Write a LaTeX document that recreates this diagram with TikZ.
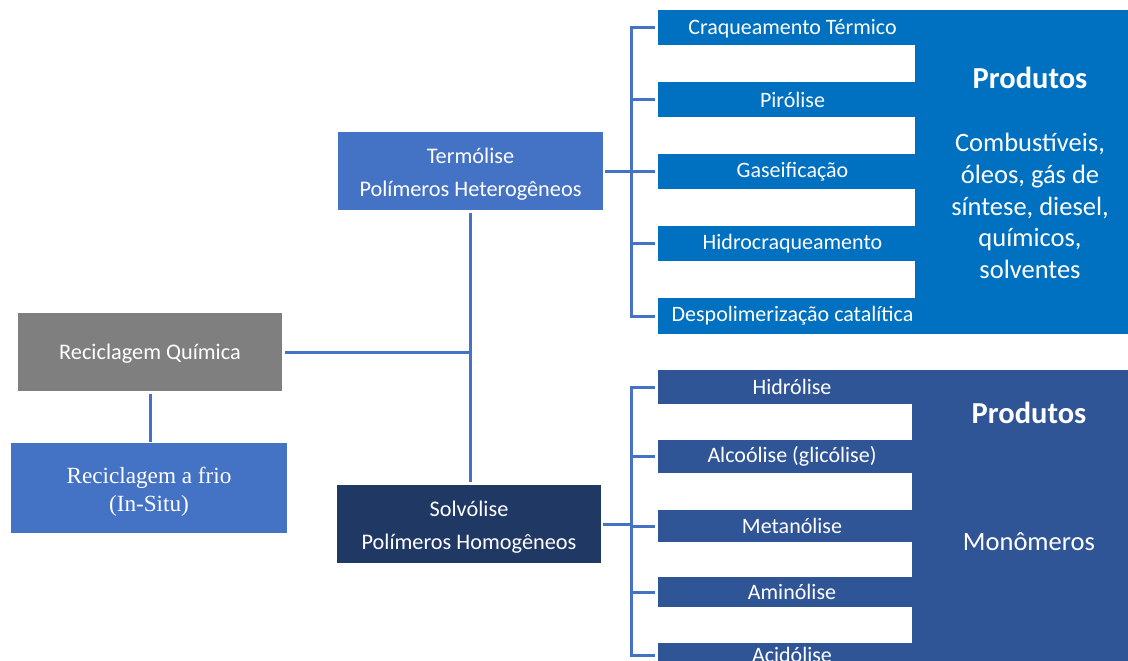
\documentclass[tikz,border=0pt]{standalone}
\usepackage{fontspec}
\setmainfont{Carlito}
\newfontfamily\timesface{Liberation Serif}
\definecolor{topblue}{HTML}{0070C0}
\definecolor{lowblue}{HTML}{2F5597}
\definecolor{midblue}{HTML}{4472C4}
\definecolor{navy}{HTML}{203864}
\definecolor{greybox}{HTML}{7F7F7F}
\definecolor{linkblue}{HTML}{4472C4}

% strut that lowers a two-line label a little inside its box
\newcommand{\lowerstrut}{\rule{0pt}{22pt}}

\tikzset{
  block/.style={inner sep=0pt, outer sep=0pt, text=white, align=center, anchor=north west},
  barlabel/.style={block, font=\fontsize{22}{24}\selectfont},
  boxlabel/.style={block, font=\fontsize{22.3}{33}\selectfont},
  prodtitle/.style={text=white, inner sep=0pt, font=\bfseries\fontsize{30.5}{34}\selectfont},
  prodtext/.style={text=white, inner sep=0pt, align=center, font=\fontsize{26.5}{31.7}\selectfont},
  conn/.style={draw=linkblue, line width=3pt}
}

\begin{document}
\begin{tikzpicture}[x=1pt, y=-1pt]
\useasboundingbox (0,0) rectangle (1128,661);
\clip (0,0) rectangle (1128,661);

% left part: chemical recycling and cold recycling
\node[boxlabel, fill=greybox, minimum width=264pt, minimum height=78pt] (quim) at (18,313) {\rule{0pt}{19pt}Reciclagem Química};
\node[block, fill=midblue, minimum width=276pt, minimum height=90pt,
      font=\timesface\fontsize{23.2}{28}\selectfont] (frio) at (11,443) {\rule{0pt}{23pt}Reciclagem a frio\\(In-Situ)};

% middle boxes
\node[boxlabel, fill=midblue, minimum width=265pt, minimum height=78pt] (termo) at (338,132) {\lowerstrut Termólise\\Polímeros Heterogêneos};
\node[boxlabel, fill=navy, minimum width=264pt, minimum height=78pt] (solvo) at (337,485) {\lowerstrut Solvólise\\Polímeros Homogêneos};

% process bars first, then the product blocks over their right ends
\node[barlabel, fill=topblue, minimum width=269pt, minimum height=35pt] (t1) at (658,10)  {\rule{0pt}{18pt}Craqueamento Térmico};
\node[barlabel, fill=topblue, minimum width=269pt, minimum height=35pt] (t2) at (658,82)  {Pirólise};
\node[barlabel, fill=topblue, minimum width=269pt, minimum height=35pt] (t3) at (658,154) {Gaseificação};
\node[barlabel, fill=topblue, minimum width=269pt, minimum height=35pt] (t4) at (658,226) {Hidrocraqueamento};
\node[barlabel, fill=topblue, minimum width=269pt, minimum height=36pt] (t5) at (658,298) {Despolimerização catalítica};
\node[block, fill=topblue, minimum width=230pt, minimum height=324pt] (prodT) at (915,10) {};
\node[prodtitle] (prodTtitle) at (1030,78) {Produtos};
\node[prodtext] (prodTlist) at (1030,206) {Combustíveis,\\óleos, gás de\\síntese, diesel,\\químicos,\\solventes};

\node[barlabel, fill=lowblue, minimum width=268pt, minimum height=34pt] (b1) at (658,370) {Hidrólise};
\node[barlabel, fill=lowblue, minimum width=268pt, minimum height=33pt] (b2) at (658,440) {Alcoólise (glicólise)};
\node[barlabel, fill=lowblue, minimum width=268pt, minimum height=32pt] (b3) at (658,510) {Metanólise};
\node[barlabel, fill=lowblue, minimum width=268pt, minimum height=30pt] (b4) at (658,577) {Aminólise};
\node[barlabel, fill=lowblue, minimum width=268pt, minimum height=24pt] (b5) at (658,643) {Acidólise};
\node[block, fill=lowblue, minimum width=230pt, minimum height=300pt] (prodB) at (912,370) {};
\node[prodtitle] (prodBtitle) at (1029,413) {Produtos};
\node[prodtext] (prodBmono) at (1029,542) {Monômeros};

% connectors
\coordinate (hub) at (470,352);
\coordinate (brkT) at (631,171);
\coordinate (brkB) at (631,524);

\draw[conn, shorten <=3pt] (quim.east) -- (hub);
\draw[conn, shorten <=3pt, shorten >=1pt] (quim.south) -- (quim.south |- frio.north);
\draw[conn, shorten <=3pt, shorten >=3pt] (termo.south) -- (termo.south |- solvo.north);

\draw[conn, shorten <=2pt] (termo.east) -- (brkT);
\draw[conn, shorten <=3pt, shorten >=3pt] (t1.west) -| (brkT) |- (t5.west);
\draw[conn, shorten >=3pt] (brkT) |- (t2.west);
\draw[conn, shorten >=3pt] (brkT) |- (t3.west);
\draw[conn, shorten >=3pt] (brkT) |- (t4.west);

\draw[conn, shorten <=2pt] (solvo.east) -- (brkB);
\draw[conn, shorten <=3pt, shorten >=3pt] (b1.west) -| (brkB) |- (b5.west);
\draw[conn, shorten >=3pt] (brkB) |- (b2.west);
\draw[conn, shorten >=3pt] (brkB) |- (b3.west);
\draw[conn, shorten >=3pt] (brkB) |- (b4.west);
\end{tikzpicture}
\end{document}
